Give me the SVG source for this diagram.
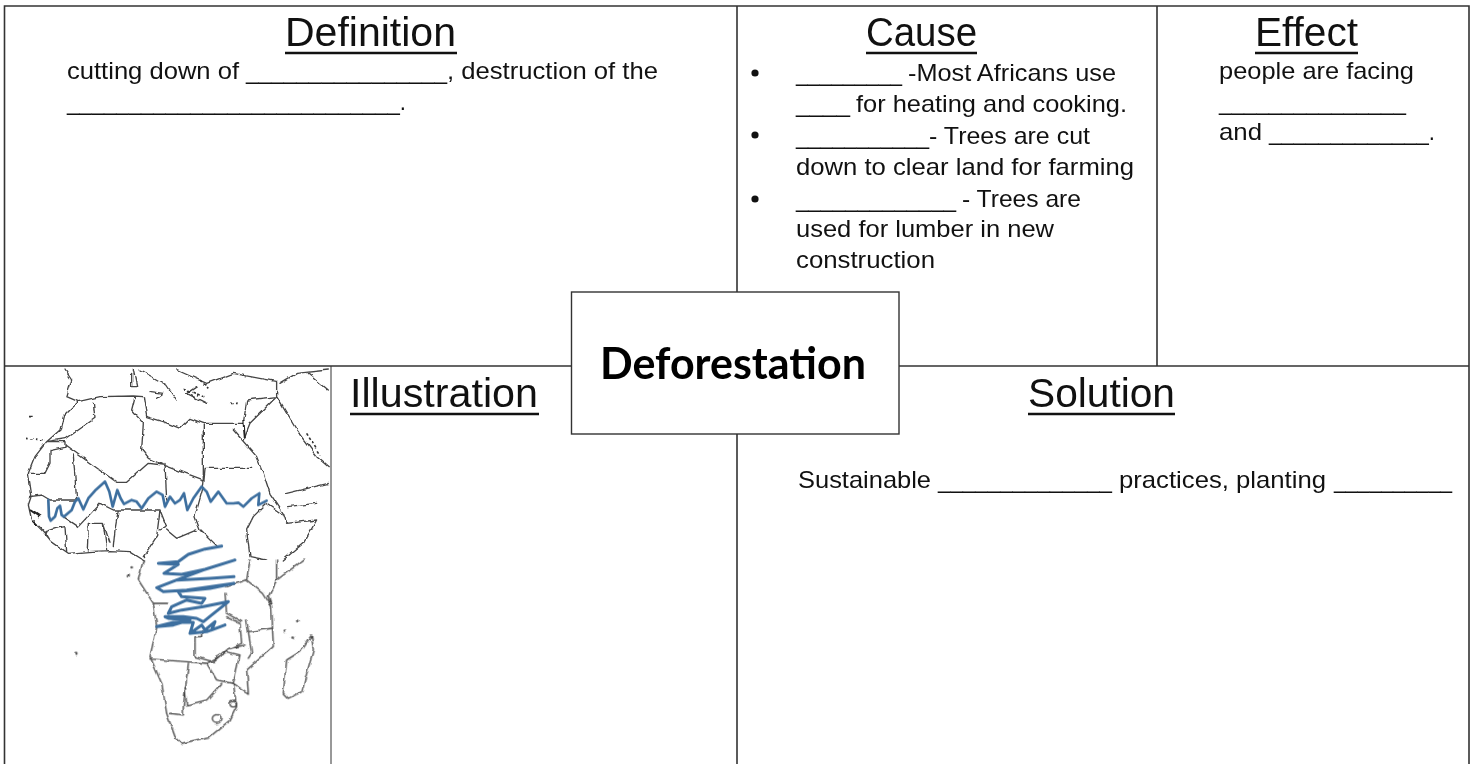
<svg xmlns="http://www.w3.org/2000/svg" width="1475" height="764" viewBox="0 0 1475 764">
<style>
text{font-family:"Liberation Sans Narrow","Liberation Sans",Arial,sans-serif;fill:#111}
.b{font-size:24px}
.h{font-size:40px}
.t{font-family:Lato,"Liberation Sans",sans-serif;font-size:44px;font-weight:700;fill:#000}
.g{fill:none;stroke:#333;stroke-width:1.6}
.u{stroke:#111;stroke-width:2.400}
.m{fill:none;stroke:#444;stroke-width:4;stroke-linejoin:round;stroke-linecap:round}
.s{fill:none;stroke:#3d6f9f;stroke-linejoin:round;stroke-linecap:round}
</style>
<defs>
<filter id="rough" filterUnits="userSpaceOnUse" x="0" y="366" width="331" height="398">
<feTurbulence type="fractalNoise" baseFrequency="0.12" numOctaves="2" seed="4" result="n"/>
<feDisplacementMap in="SourceGraphic" in2="n" scale="4" xChannelSelector="R" yChannelSelector="G"/>
<feGaussianBlur stdDeviation="0.55"/>
</filter>
</defs>
<rect width="1475" height="764" fill="#fff"/>
<g id="connectors">
<path class="g" d="M4.500 764V6H1469V764M4.500 366H1469M737 6V292M737 434V764M1157 6V366"/>
<path d="M331 366V764" fill="none" stroke="#333" stroke-width="1"/>
</g>
<g id="map">
<g filter="url(#rough)">
<g transform="translate(0,360) scale(.3333)">
<path class="m" d="M195 30 215 60 200 110 235 125 300 110 400 108 430 110 440 170 490 185 540 205 570 175 610 190 680 190 730 190 740 120 830 110 830 65 700 40 620 70 530 30M235 125 190 170 180 210 140 245 105 290 85 340 95 405 85 435 95 480 125 510 155 545 205 580 265 575 330 572 390 575 430 600M405 110 395 150 430 190 425 270 445 295 490 315 610 360 610 195M280 130 285 175 200 235 140 245M140 245H195V262L150 272V310L135 340H90M195 255 350 367H380L445 310 490 315M220 285 230 420H150L125 405 90 410M615 325H755M700 210 770 290 790 340 810 400 850 460 860 490 950 480 910 550 850 600M495 310 500 420M615 330 610 380 585 470 600 510 650 560M300 430 340 450H480L500 500 480 510M355 450 345 510 340 560M265 490 262 570M265 490H310L330 550M310 490 320 570M480 450 470 530 430 590M500 510 530 535 590 510M740 510 760 470 800 430 850 465M740 510 750 590 800 600M730 240 750 190 830 110 890 210 950 290 985 320M860 400 985 370M860 440 950 430M420 30 500 75 530 120M400 30 410 80H395V40M150 540 135 515 165 505 195 500 200 575M235 500 300 430M190 470 235 500M925 40 985 90M840 70 890 40 985 30M450 95 490 100 470 115M590 80 560 100 620 130"/>
<path d="M75 235 135 240M90 170H100M550 85 610 110M600 60 625 85M690 130H720M920 220 960 285" fill="none" stroke="#333" stroke-width="5" stroke-dasharray="8 7"/>
<path d="M90 450 120 470M95 480 110 495M730 180 735 235" fill="none" stroke="#222" stroke-width="6"/>
</g>
<g transform="translate(0,560) scale(.3333)">
<path class="m" d="M430 0 415 60 460 130 470 200 450 290 485 370 500 460 525 530 545 550 630 530 690 480 710 440 700 370 745 400 740 330 820 260 815 140 805 110 830 60 910 0M450 297 560 305 620 310M565 310 550 440V465L510 460M620 310 650 360 700 370M665 370 620 420 560 435 555 380M620 310 680 275 720 285 700 370M585 230V290L640 305 680 270 725 250 720 190 680 170M585 230H605V215M745 215 815 205M740 180 755 280 745 295M690 265 735 255M680 80 740 60 790 100 815 140M675 100 680 160 725 185M740 60 750 0M830 0V60M460 130H500M935 225 900 275 860 300 850 400 865 415 905 395 940 270 935 225"/>
<circle class="m" cx="650" cy="477" r="13"/>
<circle class="m" cx="700" cy="431" r="10"/>
<g fill="#555"><circle cx="228" cy="280" r="5"/><circle cx="385" cy="45" r="5"/><circle cx="395" cy="22" r="4"/><circle cx="855" cy="215" r="4"/><circle cx="878" cy="233" r="4"/><circle cx="895" cy="183" r="4"/></g>
</g>
</g>
<path class="s" transform="translate(0,360) scale(.3333)" style="stroke-width:8" d="M145 420 147 470 152 482 165 470 172 445 180 437 185 465 192 470 215 450 225 425 235 415 250 448 265 415 285 392 315 365 328 395 338 440 352 390 362 415 372 432 395 420 410 425 425 445 445 415 470 395 488 405 495 440 510 410 525 430 540 420 552 400 562 450 580 415 605 380 620 395 632 425 655 395 680 430 700 430 715 428 730 440 755 415 778 400 775 435 800 422"/>
<path class="s" transform="translate(140,535) scale(.3333)" style="stroke-width:9" d="M245 33 195 42 145 58 115 80 55 85 115 88 72 115 125 118 195 103 285 75 190 105 110 135 50 158 70 170 140 165 282 145 210 160 115 170 125 185 195 190 185 205 140 195 95 215 85 235 125 225 190 215 265 200 215 240 190 260 170 250 130 245 75 245 85 250 150 255 100 270 50 275 100 262 160 262 150 295 185 270 195 285 225 260 215 285 255 270 200 290 150 295M110 135 210 130 282 125"/>
</g>
<g id="definition">
<text class="h" x="285" y="45.500" textLength="171" lengthAdjust="spacingAndGlyphs">Definition</text>
<line class="u" x1="285" y1="53" x2="457" y2="53"/>
<text class="b" y="79"><tspan x="67" textLength="172" lengthAdjust="spacingAndGlyphs">cutting down of</tspan><tspan x="246" textLength="201" lengthAdjust="spacingAndGlyphs">________________</tspan><tspan x="447" textLength="211" lengthAdjust="spacingAndGlyphs">, destruction of the</tspan></text>
<text class="b" x="67" y="110" textLength="339" lengthAdjust="spacingAndGlyphs">___________________________.</text>
</g>
<g id="cause">
<text class="h" x="866" y="45.500" textLength="111" lengthAdjust="spacingAndGlyphs">Cause</text>
<line class="u" x1="866" y1="53" x2="977" y2="53"/>
<circle cx="755" cy="73" r="3.600" fill="#111"/><circle cx="755" cy="135" r="3.600" fill="#111"/><circle cx="755" cy="199" r="3.600" fill="#111"/>
<text class="b" y="81"><tspan x="796" textLength="106" lengthAdjust="spacingAndGlyphs">_________</tspan><tspan x="908" textLength="208" lengthAdjust="spacingAndGlyphs">-Most Africans use</tspan></text>
<text class="b" y="112"><tspan x="796" textLength="54" lengthAdjust="spacingAndGlyphs">____</tspan><tspan x="856" textLength="271" lengthAdjust="spacingAndGlyphs">for heating and cooking.</tspan></text>
<text class="b" y="144"><tspan x="796" textLength="133" lengthAdjust="spacingAndGlyphs">___________</tspan><tspan x="929" textLength="161" lengthAdjust="spacingAndGlyphs">- Trees are cut</tspan></text>
<text class="b" x="796" y="175" textLength="338" lengthAdjust="spacingAndGlyphs">down to clear land for farming</text>
<text class="b" y="207"><tspan x="796" textLength="160" lengthAdjust="spacingAndGlyphs">_____________</tspan><tspan x="962" textLength="119" lengthAdjust="spacingAndGlyphs">- Trees are</tspan></text>
<text class="b" x="796" y="237" textLength="258" lengthAdjust="spacingAndGlyphs">used for lumber in new</text>
<text class="b" x="796" y="268" textLength="139" lengthAdjust="spacingAndGlyphs">construction</text>
</g>
<g id="effect">
<text class="h" x="1255" y="45.500" textLength="103" lengthAdjust="spacingAndGlyphs">Effect</text>
<line class="u" x1="1255" y1="53" x2="1358" y2="53"/>
<text class="b" x="1219" y="79" textLength="195" lengthAdjust="spacingAndGlyphs">people are facing</text>
<text class="b" x="1219" y="110" textLength="187" lengthAdjust="spacingAndGlyphs">_______________</text>
<text class="b" y="140"><tspan x="1219" textLength="43" lengthAdjust="spacingAndGlyphs">and</tspan><tspan x="1269" textLength="166" lengthAdjust="spacingAndGlyphs">_____________.</tspan></text>
</g>
<g id="illustration">
<text class="h" x="350" y="406.500" textLength="188" lengthAdjust="spacingAndGlyphs">Illustration</text>
<line class="u" x1="350" y1="414" x2="539" y2="414"/>
</g>
<g id="solution">
<text class="h" x="1028" y="406.500" textLength="147" lengthAdjust="spacingAndGlyphs">Solution</text>
<line class="u" x1="1028" y1="414" x2="1175" y2="414"/>
<text class="b" y="488"><tspan x="798" textLength="133" lengthAdjust="spacingAndGlyphs">Sustainable</tspan><tspan x="938" textLength="174" lengthAdjust="spacingAndGlyphs">______________</tspan><tspan x="1119" textLength="207" lengthAdjust="spacingAndGlyphs">practices, planting</tspan><tspan x="1334" textLength="118" lengthAdjust="spacingAndGlyphs">__________</tspan></text>
</g>
<g id="deforestation">
<rect x="571.500" y="292" width="327.500" height="142" fill="#fff" stroke="#333" stroke-width="1.400"/>
<text class="t" x="600" y="379" textLength="266" lengthAdjust="spacingAndGlyphs">Deforestation</text>
</g>
</svg>
